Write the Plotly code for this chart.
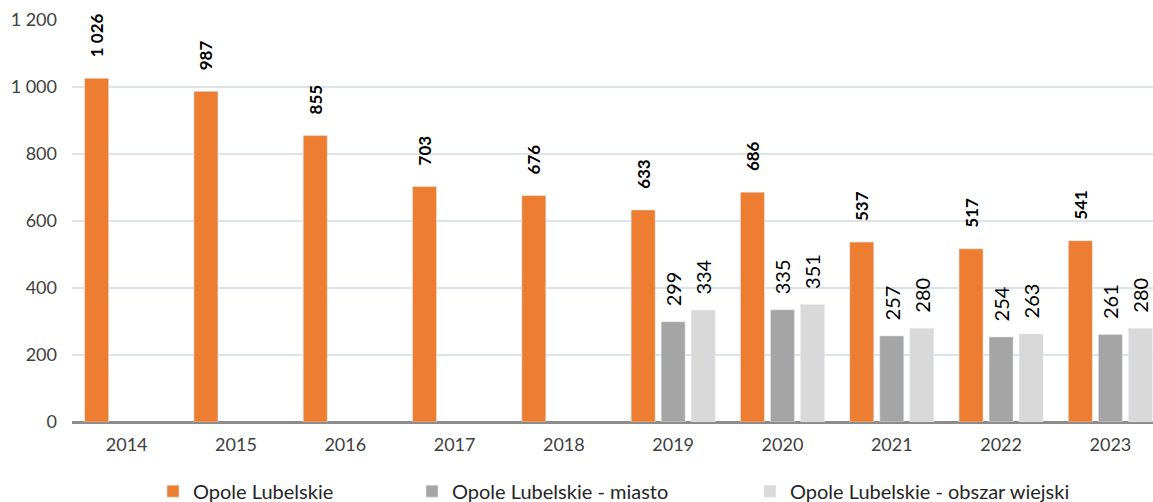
import plotly.graph_objects as go

years = ["2014", "2015", "2016", "2017", "2018", "2019", "2020", "2021", "2022", "2023"]
total = [1026, 987, 855, 703, 676, 633, 686, 537, 517, 541]
city = [None, None, None, None, None, 299, 335, 257, 254, 261]
rural = [None, None, None, None, None, 334, 351, 280, 263, 280]

names = ["Opole Lubelskie", "Opole Lubelskie - miasto", "Opole Lubelskie - obszar wiejski"]
colors = ["#ED7D31", "#A5A5A5", "#D9D9D9"]

FONT = "Lato"

L, W = 72, 1081
legend_text_px = [193, 452, 790]

fig = go.Figure()
series = [total, city, rural]
for i, vals in enumerate(series):
    bold = i == 0
    fig.add_trace(go.Bar(
        x=years, y=vals, name=names[i], marker_color=colors[i],
        texttemplate=("\u2002\u2002\u200a<b>%{y:,d}</b>" if bold else "\u2002\u2009%{y:,d}"),
        textposition="outside", textangle=-90, constraintext="none",
        textfont=dict(family=FONT, size=17 if bold else 20, color="#000000"),
        cliponaxis=False,
        legend="legend" if i == 0 else f"legend{i+1}",
    ))

legends = {}
for i in range(3):
    key = "legend" if i == 0 else f"legend{i+1}"
    legends[key] = dict(orientation="h", x=(legend_text_px[i] - 40 - L) / W, xanchor="left",
                        y=-0.172, yanchor="middle", bgcolor="rgba(0,0,0,0)",
                        font=dict(family=FONT, size=20, color="#262626"))

fig.update_layout(
    width=1153, height=502,
    margin=dict(l=L, r=0, t=20, b=80, autoexpand=False),
    paper_bgcolor="white", plot_bgcolor="white",
    barmode="group", bargap=0.176, bargroupgap=0.2,
    separators=", ",
    font=dict(family=FONT, size=18, color="#404040"),
    showlegend=True,
    **legends,
)
fig.update_xaxes(range=[-0.5, 9.39], showgrid=False, showline=False, ticks="",
                 automargin=False, ticklabelstandoff=10,
                 tickfont=dict(family=FONT, size=18, color="#404040"))
fig.update_yaxes(range=[0, 1200], dtick=200, tickformat=",d", showgrid=True,
                 gridcolor="#DDE3EA", gridwidth=1.5, zeroline=True, zerolinecolor="#8C8C8C",
                 zerolinewidth=3, showline=False, ticks="", ticklabelstandoff=14,
                 automargin=False,
                 tickfont=dict(family=FONT, size=18, color="#404040"))

fig.write_html("out.html", config={"displayModeBar": False},
               post_script="document.body.style.margin='0';document.body.style.overflow='hidden';")
